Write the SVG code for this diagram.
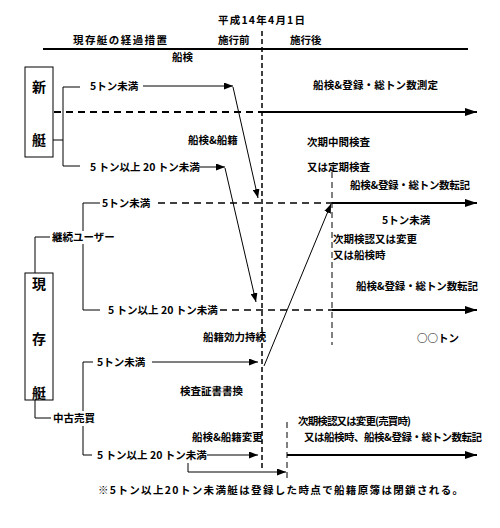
<svg xmlns="http://www.w3.org/2000/svg" width="500" height="528" viewBox="0 0 500 528">
<defs>
<marker id="ah" markerUnits="userSpaceOnUse" markerWidth="9" markerHeight="7" refX="9" refY="3.5" orient="auto"><path d="M0,0 L9,3.5 L0,7 z" fill="#000"/></marker>
<marker id="ahb" markerUnits="userSpaceOnUse" markerWidth="12" markerHeight="8" refX="12" refY="4" orient="auto"><path d="M0,0 L12,4 L0,8 z" fill="#000"/></marker>
<style>
text{font-family:"Noto Sans CJK JP","Noto Sans",sans-serif;font-size:10.5px;font-weight:bold;fill:#000}
.big{font-size:14px}
.thin{stroke:#000;stroke-width:1;fill:none}
.thick{stroke:#000;stroke-width:2;fill:none}
.dash{stroke:#000;stroke-width:2;stroke-dasharray:7 5;fill:none}
.vdash{stroke:#000;stroke-width:1;stroke-dasharray:6 4;fill:none}
.mdash{stroke:#000;stroke-width:1.5;stroke-dasharray:5 3;fill:none}
</style>
</defs>
<rect width="500" height="528" fill="#fff"/>
<g id="header">
<text x="218" y="24" textLength="87">平成14年4月1日</text>
<text x="73" y="44" textLength="94">現存艇の経過措置</text>
<text x="218" y="44">施行前</text>
<text x="290" y="44">施行後</text>
<line x1="43" y1="49" x2="468" y2="49" class="thick"/>
<text x="172" y="61">船検</text>
</g>
<g id="new-boat">
<rect x="25" y="67" width="28" height="90" class="thin"/>
<text class="big" x="39" y="92" text-anchor="middle">新</text>
<text class="big" x="39" y="145" text-anchor="middle">艇</text>
</g>
<g id="existing-boat">
<rect x="25" y="273" width="28" height="127" class="thin"/>
<text class="big" x="39" y="289" text-anchor="middle">現</text>
<text class="big" x="39" y="344" text-anchor="middle">存</text>
<text class="big" x="39" y="398" text-anchor="middle">艇</text>
</g>
<g id="labels">
<text x="90" y="90">5トン未満</text>
<text x="90" y="171">5 トン以上 20 トン未満</text>
<text x="313" y="89" textLength="125">船検&amp;登録・総トン数測定</text>
<text x="188" y="144">船検&amp;船籍</text>
<text x="307" y="146">次期中間検査</text>
<text x="307" y="171">又は定期検査</text>
<text x="350" y="189" textLength="120">船検&amp;登録・総トン数転記</text>
<text x="102" y="207">5トン未満</text>
<text x="382" y="224">5トン未満</text>
<text x="52" y="241">継続ユーザー</text>
<text x="333" y="243">次期検認又は変更</text>
<text x="333" y="259">又は船検時</text>
<text x="356" y="290" textLength="122">船検&amp;登録・総トン数転記</text>
<text x="108" y="314">5 トン以上 20 トン未満</text>
<text x="203" y="341">船籍効力持続</text>
<text x="417" y="342">○○トン</text>
<text x="97" y="366">5トン未満</text>
<text x="180" y="395">検査証書書換</text>
<text x="53" y="422">中古売買</text>
<text x="298" y="425" textLength="113">次期検認又は変更(売買時)</text>
<text x="192" y="441">船検&amp;船籍変更</text>
<text x="304" y="441" textLength="178">又は船検時、船検&amp;登録・総トン数転記</text>
<text x="97" y="459">5 トン以上 20 トン未満</text>
<text x="98" y="494" textLength="365">※5トン以上20トン未満艇は登録した時点で船籍原簿は閉鎖される。</text>
</g>
<g id="connectors">
<line x1="262" y1="31" x2="262" y2="470" class="mdash"/>
<line x1="332" y1="172" x2="332" y2="345" class="vdash"/>
<line x1="287" y1="422" x2="287" y2="482" class="vdash"/>
<path d="M53,140 H63 M63,87 V166 M63,87 H80 M63,166 H80" class="thin"/>
<line x1="143" y1="86" x2="233" y2="86" class="thin" marker-end="url(#ah)"/>
<line x1="199" y1="167" x2="225" y2="167" class="thin" marker-end="url(#ah)"/>
<line x1="233" y1="87" x2="258" y2="198" class="thin" marker-end="url(#ah)"/>
<line x1="225" y1="168" x2="256" y2="302" class="thin" marker-end="url(#ah)"/>
<line x1="54" y1="112" x2="262" y2="112" class="dash"/>
<line x1="262" y1="112" x2="477" y2="112" class="thick" marker-end="url(#ahb)"/>
<path d="M35,273 V237 H50 M83,203 V231 M83,244 V310 M83,203 H100 M83,310 H100" class="thin"/>
<line x1="158" y1="203" x2="332" y2="203" class="dash" style="stroke-width:1.5"/>
<line x1="332" y1="203" x2="477" y2="203" class="thick" marker-end="url(#ahb)"/>
<line x1="220" y1="310" x2="332" y2="310" class="dash" style="stroke-width:1.5"/>
<line x1="332" y1="310" x2="477" y2="310" class="thick" marker-end="url(#ahb)"/>
<path d="M35,400 V418 H51 M83,362 V411 M83,426 V455 H92 M83,362 H93" class="thin"/>
<line x1="152" y1="362" x2="258" y2="362" class="thin" marker-end="url(#ah)"/>
<line x1="264" y1="366" x2="331" y2="204" class="thin" marker-end="url(#ah)"/>
<line x1="207" y1="455" x2="258" y2="455" class="thin" marker-end="url(#ah)"/>
<path d="M188,463 V472 H286" class="thin" marker-end="url(#ah)"/>
<line x1="287" y1="455" x2="477" y2="455" class="thick" marker-end="url(#ahb)"/>
</g>
</svg>
